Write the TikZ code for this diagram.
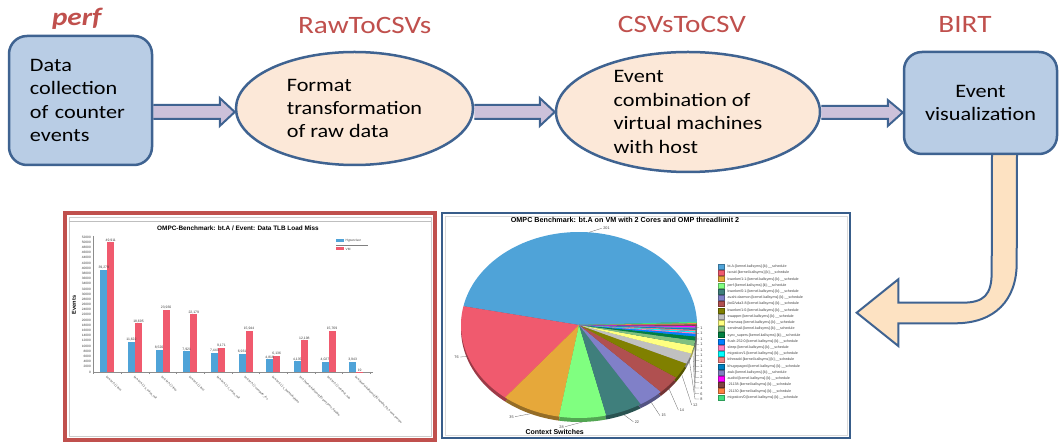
\documentclass[tikz,border=0pt]{standalone}
\usepackage{fontspec}
\setmainfont{Carlito}[FakeStretch=1.17]
\newfontfamily\chartfont{Liberation Sans}
\usetikzlibrary{shapes.geometric,calc,backgrounds}
\definecolor{bordblue}{HTML}{3F6391}
\definecolor{boxblue}{HTML}{B9CDE5}
\definecolor{peach}{HTML}{FCE8D8}
\definecolor{lav}{HTML}{CCC1DA}
\definecolor{uorange}{HTML}{FDE2C2}
\definecolor{redtxt}{HTML}{C0504D}
\definecolor{framered}{HTML}{C0504D}
\definecolor{framenavy}{HTML}{385D8A}
\definecolor{c1}{HTML}{4FA3D8}
\definecolor{c2}{HTML}{F05A6E}
\definecolor{c3}{HTML}{E6A83A}
\definecolor{c4}{HTML}{80FF80}
\definecolor{c5}{HTML}{3F7F7C}
\definecolor{c6}{HTML}{8080C8}
\definecolor{c7}{HTML}{B05050}
\definecolor{c8}{HTML}{808000}
\definecolor{c9}{HTML}{C0C0C0}
\definecolor{c10}{HTML}{FFFF80}
\definecolor{c11}{HTML}{80C080}
\definecolor{c12}{HTML}{008040}
\definecolor{c13}{HTML}{0080FF}
\definecolor{c14}{HTML}{FF80C0}
\definecolor{c15}{HTML}{00FFFF}
\definecolor{c16}{HTML}{F08080}
\definecolor{c17}{HTML}{0080C0}
\definecolor{c18}{HTML}{8080C0}
\definecolor{c19}{HTML}{FF00FF}
\definecolor{c20}{HTML}{804040}
\definecolor{c21}{HTML}{FF8040}
\definecolor{c22}{HTML}{40E080}
\newcommand\kssched{-[kernel.kallsyms]-[k]-\_\_schedule}
\newcommand\chfs[1]{\chartfont\fontsize{#1}{#1}\selectfont}
\begin{document}
\begin{tikzpicture}[x=1pt,y=1pt,yscale=-1,
  procbox/.style={draw=bordblue, line width=2.5pt, fill=boxblue, rounded corners=18pt, font=\fontsize{19}{23.4}\selectfont},
  procell/.style={ellipse, draw=bordblue, line width=2.5pt, fill=peach, inner sep=0pt, align=left, font=\fontsize{19}{23.4}\selectfont},
  fatarrow/.style={draw=bordblue, line width=2pt, fill=lav, line join=miter},
  uarrow/.style={draw=bordblue, line width=2pt, fill=uorange, line join=miter},
  stage/.style={text=redtxt, font=\fontsize{25}{28}\selectfont},
  ytick/.style={anchor=east, inner sep=0pt, font=\chfs{3.2}, text=black!75},
  vlab/.style={anchor=south, inner sep=0.6pt, font=\chfs{3.4}, text=black!75},
  xlab/.style={anchor=west, inner sep=0pt, rotate=-45, font=\chfs{2.9}, text=black!75},
  leglab/.style={anchor=west, inner sep=0pt, font=\chfs{3.6}, text=black!75},
  leader/.style={draw=black!60, line width=0.3pt},
  plab/.style={inner sep=0.6pt, font=\chfs{3.8}, text=black!75}]
\useasboundingbox (0,0) rectangle (1061,443);

% ---------- top row ----------
\node[stage, font=\fontsize{25}{28}\selectfont\bfseries\itshape] (l1) at (76.7,19) {perf};
\node[stage] (l2) at (364.7,25) {RawToCSVs};
\node[stage] (l3) at (682,24) {CSVsToCSV};
\node[stage] (l4) at (965,24) {BIRT};

\node[procbox, minimum width=143pt, minimum height=129pt, text width=101pt, inner xsep=21pt, inner ysep=0pt, align=left] (b1) at (80.5,100.5) {Data\\collection\\of counter\\events};
\node[procell, minimum width=237pt, minimum height=113pt] (e1) at (354.5,108.5) {Format\\transformation\\of raw data};
\node[procell, minimum width=264pt, minimum height=120pt] (e2) at (688,112) {Event\\combination of\\virtual machines\\with host};
\node[procbox, minimum width=153pt, minimum height=102pt, align=center] (b4) at (980.5,103) {Event\\visualization};
\coordinate (fbtip) at (856.7,312.7);

\begin{pgfonlayer}{background}
\fill[white] (0,0) rectangle (1061,443);
\draw[fatarrow] let \p1=(b1.east), \p2=(e1.west) in
  (\x1,105) -- (\x2-15pt,105) -- (\x2-15pt,98) -- (\x2,112) -- (\x2-15pt,126) -- (\x2-15pt,119) -- (\x1,119);
\draw[fatarrow] let \p1=(e1.east), \p2=(e2.west) in
  (\x1,105) -- (\x2-15pt,105) -- (\x2-15pt,98) -- (\x2,112) -- (\x2-15pt,126) -- (\x2-15pt,119) -- (\x1,119);
\draw[fatarrow] let \p1=(e2.east), \p2=(b4.west) in
  (\x1,106) -- (\x2-15pt,106) -- (\x2-15pt,100) -- (\x2,112.5) -- (\x2-15pt,126) -- (\x2-15pt,119) -- (\x1,119);
\draw[uarrow] ($(b4.south)+(11.5,-2)$) -- (991.7,272) .. controls (991.7,295) and (984,302.7) .. (962,302.7)
  -- (898.3,302.7) -- (898.3,279.3) -- (fbtip) -- (898.3,346) -- (898.3,323.3) -- (955,323.3)
  .. controls (995,323.3) and (1016.7,300) .. (1016.7,263) -- ($(b4.south)+(36.5,-2)$);
\end{pgfonlayer}

% ---------- bar chart ----------
\draw[framered, line width=4pt] (65,213) rectangle (435,440);
\draw[black!20, line width=0.6pt] (69,217) rectangle (431,436);
\draw[black!25, line width=0.8pt] (69,221) -- (431,221);
\node[font=\chfs{6.4}\bfseries, inner sep=0pt] (t1) at (238,228) {OMPC-Benchmark: bt.A / Event: Data TLB Load Miss};
\draw[black!45, line width=0.5pt] (93,236) -- (93,372) -- (373,372);
\foreach \k in {0,...,10} \draw[black!45, line width=0.4pt] ({93.5+27.65*\k},372) -- ({93.5+27.65*\k},374.5);
\foreach \k [evaluate=\k as \v using int(2*\k)] in {0,...,26}
  \node[ytick] at (91,{372-\k*5.1923}) {\ifnum\v=0 0\else\v000\fi};
\node[rotate=90, font=\chfs{5.6}\bfseries, inner sep=0pt] (ev) at (74,305) {Events};
\foreach \i/\b/\r/\lb/\lr in {0/39.279/49.911/{39,279}/{49,911}, 1/11.622/18.695/{11,622}/{18,695},
  2/8.520/23.930/{8,520}/{23,930}, 3/7.921/22.179/{7,921}/{22,179}, 4/7.443/9.171/{7,443}/{9,171},
  5/6.931/15.944/{6,931}/{15,944}, 6/4.816/6.136/{4,816}/{6,136}, 7/4.135/12.198/{4,135}/{12,198},
  8/4.027/15.769/{4,027}/{15,769}, 9/3.943/0.019/{3,943}/{19}} {
  \pgfmathsetmacro\g{107.3+27.65*\i}
  \pgfmathsetmacro\hb{372-2.5962*\b}
  \pgfmathsetmacro\hr{372-2.5962*\r}
  \fill[c1] (\g-7,372) rectangle (\g,\hb);
  \fill[c2] (\g,372) rectangle (\g+7,\hr);
  \node[vlab] at (\g-3.5,\hb) {\lb};
  \node[vlab] at (\g+3.5,\hr) {\lr};
}
\foreach \i/\t in {0/{bt.A-bt.A-[.]-lhsx}, 1/{bt.A-bt.A-[.]-y\_solve\_cell}, 2/{bt.A-bt.A-[.]-lhsy},
  3/{bt.A-bt.A-[.]-lhsz}, 4/{bt.A-bt.A-[.]-z\_solve\_cell}, 5/{bt.A-bt.A-[.]-compute\_rhs},
  6/{bt.A-bt.A-[.]-x\_backsubstitute}, 7/{bt.A-[kernel.kallsyms]-[k]-perf\_pmu\_disable},
  8/{bt.A-bt.A-[.]-matmul\_sub}, 9/{bt.A-[kernel.kallsyms]-[k]-handle\_irq\_event\_percpu}}
  \node[xlab] at ({107.3+27.65*\i-1},376.5) {\t};
\fill[c1] (336,239.3) rectangle (344,242.5);
\node[leglab, font=\chfs{3.2}] at (345.5,241) {Hypervisor};
\draw[black!50, line width=0.4pt] (336,245) -- (368,245);
\fill[c2] (336,247.3) rectangle (344,250.5);
\node[leglab, font=\chfs{3.2}] at (345.5,249) {VM};

% ---------- pie chart ----------
\draw[framenavy, line width=2.2pt] (442,213) rectangle (850,438);
\draw[black!15, line width=0.5pt] (445,216) rectangle (847,435);
\node[font=\chfs{7.2}\bfseries, inner sep=0pt] (t2) at (625,220) {OMPC Benchmark: bt.A on VM with 2 Cores and OMP threadlimit 2};
\node[font=\chfs{7}\bfseries, inner sep=0pt] (cs) at (554.7,432) {Context Switches};
\begin{scope}[shift={(579,325)}, yscale=-1]
  \def\slices{2/168.345/c1, 168.345/231.241/c2, 231.241/260.207/c3, 260.207/283.379/c4,
    283.379/301.586/c5, 301.586/314.0/c6, 314.0/325.586/c7, 325.586/335.517/c8,
    335.517/342.138/c9, 342.138/347.103/c10, 347.103/350.414/c11, 350.414/352.897/c12,
    352.897/354.552/c13, 354.552/355.379/c14, 355.379/356.207/c15, 356.207/357.034/c16,
    357.034/357.862/c17, 357.862/358.690/c18, 358.690/359.517/c19, 359.517/360.345/c20,
    360.345/361.172/c21, 361.172/362.0/c22}
  \begin{scope}[yshift=-4pt]
    \foreach \a/\b/\c in \slices
      \fill[\c!65!black] (0,0) -- (\a:118pt and 93pt) arc[start angle=\a, end angle=\b, x radius=118pt, y radius=93pt] -- cycle;
  \end{scope}
  \foreach \a/\b/\c in \slices
    \fill[\c] (0,0) -- (\a:118pt and 93pt) arc[start angle=\a, end angle=\b, x radius=118pt, y radius=93pt] -- cycle;
  % leaders, large slices
  \draw[leader] (85.2:118pt and 93pt) -- (22.7,96.7);
  \node[plab, anchor=west] at (23.5,96.7) {201};
  \draw[leader] (199.8:118pt and 93pt) -- (-119,-32);
  \node[plab, anchor=east] at (-119.5,-32) {76};
  \draw[leader] ($(245.7:118pt and 93pt)+(0,-4)$) -- (-64,-91.7);
  \node[plab, anchor=east] at (-64.5,-91.7) {35};
  \draw[leader] ($(271.8:118pt and 93pt)+(0,-4)$) -- (-14,-101.7);
  \node[plab, anchor=east] at (-14.5,-101.7) {28};
  \draw[leader] ($(292.5:118pt and 93pt)+(0,-4)$) -- (54.3,-96.7);
  \node[plab, anchor=west] at (55,-96.7) {22};
  \draw[leader] ($(307.8:118pt and 93pt)+(0,-4)$) -- (81,-90.7);
  \node[plab, anchor=west] at (81.7,-90.7) {15};
  \draw[leader] ($(319.8:118pt and 93pt)+(0,-4)$) -- (99.3,-85);
  \node[plab, anchor=west] at (100,-85) {14};
  \draw[leader] ($(330.6:118pt and 93pt)+(0,-4)$) -- (112.7,-80);
  \node[plab, anchor=west] at (113.4,-80) {12};
  % leaders, small slices
  \foreach \m/\yl/\t in {361.59/-2.7/1, 360.76/-8.3/1, 359.93/-14/1, 359.10/-19.3/1, 358.28/-25/1,
      357.45/-30.3/1, 356.62/-35.7/1, 355.79/-41.3/1, 354.97/-46.7/1, 353.72/-52.3/2,
      351.66/-57.7/3, 348.76/-63/4, 344.62/-68.7/6, 338.83/-74/8} {
    \draw[leader] (\m:118pt and 93pt) -- (116,\yl) -- (120,\yl);
    \node[plab, anchor=west] at (120.5,\yl) {\t};
  }
\end{scope}
\foreach \i/\c/\t in {0/c1/{bt.A\kssched}, 1/c2/{iscsid\kssched}, 2/c3/{kworker/1:1\kssched},
    3/c4/{perf\kssched}, 4/c5/{kworker/0:1\kssched}, 5/c6/{avahi-daemon\kssched},
    6/c7/{jbd2/vda3-8\kssched}, 7/c8/{kworker/1:0\kssched}, 8/c9/{swapper\kssched},
    9/c10/{dnsmasq\kssched}, 10/c11/{sendmail\kssched}, 11/c12/{sync\_supers\kssched},
    12/c13/{flush-252:0\kssched}, 13/c14/{sleep\kssched}, 14/c15/{migration/1\kssched},
    15/c16/{kthreadd\kssched}, 16/c17/{khugepaged\kssched}, 17/c18/{awk\kssched},
    18/c19/{auditd\kssched}, 19/c20/{-21138\kssched}, 20/c21/{-21130\kssched},
    21/c22/{migration/0\kssched}} {
  \pgfmathsetmacro\yy{266.7+6.22*\i}
  \filldraw[fill=\c, draw=\c!70!black, line width=0.3pt] (718.5,\yy-2.5) rectangle (724.5,\yy+2.5);
  \node[leglab] at (727.5,\yy) {\t};
}
\end{tikzpicture}
\end{document}
